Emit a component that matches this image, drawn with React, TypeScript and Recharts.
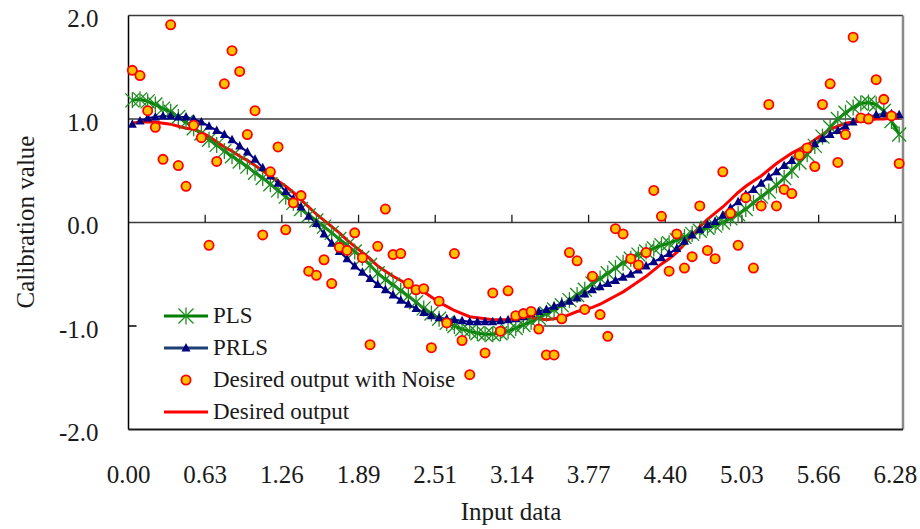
import {
  LineChart,
  Line,
  XAxis,
  YAxis,
  ReferenceLine,
  Legend,
  Label,
} from 'recharts';

// tick labels
const xTickLabels = ['0.00', '0.63', '1.26', '1.89', '2.51', '3.14', '3.77', '4.40', '5.03', '5.66', '6.28'];
const yTickValues = [-2, -1, 0, 1, 2];
const yTickLabels = ['-2.0', '-1.0', '0.0', '1.0', '2.0'];
const gridValues = [2, 1, 0];

// 101 samples over 0..2pi
const plsValues = [
  1.18, 1.19, 1.17, 1.14, 1.10, 1.07, 1.02, 0.97, 0.91, 0.86,
  0.80, 0.75, 0.69, 0.64, 0.59, 0.54, 0.48, 0.43, 0.37, 0.31,
  0.25, 0.19, 0.13, 0.07, 0.02, -0.04, -0.10, -0.16, -0.22, -0.28,
  -0.34, -0.41, -0.49, -0.55, -0.60, -0.66, -0.71, -0.77, -0.83, -0.88,
  -0.93, -0.97, -1.00, -1.03, -1.05, -1.07, -1.08, -1.08, -1.07, -1.05,
  -1.02, -0.99, -0.96, -0.92, -0.88, -0.84, -0.80, -0.75, -0.70, -0.65,
  -0.59, -0.54, -0.49, -0.44, -0.39, -0.35, -0.31, -0.28, -0.25, -0.22,
  -0.20, -0.17, -0.14, -0.11, -0.08, -0.05, -0.03, 0.00, 0.04, 0.08,
  0.13, 0.19, 0.25, 0.30, 0.36, 0.43, 0.50, 0.58, 0.66, 0.74,
  0.83, 0.92, 1.00, 1.06, 1.11, 1.15, 1.16, 1.14, 1.08, 0.98,
  0.85,
];

const prlsValues = [
  0.95, 0.98, 1.01, 1.02, 1.03, 1.03, 1.02, 1.02, 1.00, 0.97,
  0.93, 0.89, 0.85, 0.80, 0.74, 0.68, 0.61, 0.53, 0.45, 0.38,
  0.30, 0.23, 0.15, 0.06, -0.01, -0.11, -0.20, -0.28, -0.35, -0.42,
  -0.48, -0.54, -0.60, -0.65, -0.70, -0.75, -0.79, -0.83, -0.87, -0.90,
  -0.92, -0.93, -0.94, -0.95, -0.96, -0.96, -0.96, -0.96, -0.95, -0.94,
  -0.93, -0.91, -0.88, -0.86, -0.84, -0.81, -0.78, -0.76, -0.73, -0.69,
  -0.65, -0.62, -0.59, -0.56, -0.53, -0.50, -0.46, -0.42, -0.38, -0.34,
  -0.30, -0.25, -0.18, -0.12, -0.07, -0.02, 0.01, 0.07, 0.14, 0.20,
  0.27, 0.32, 0.38, 0.44, 0.49, 0.55, 0.60, 0.66, 0.71, 0.76,
  0.81, 0.85, 0.89, 0.93, 0.97, 1.00, 1.02, 1.04, 1.05, 1.05,
  1.04,
];

// one sample (index 45) is not visible in the picture
const noiseValues = [
  1.47, 1.42, 1.08, 0.92, 0.61, 1.91, 0.55, 0.35, 0.94, 0.82,
  -0.22, 0.59, 1.34, 1.66, 1.46, 0.85, 1.08, -0.12, 0.49, 0.73,
  -0.07, 0.19, 0.26, -0.47, -0.51, -0.36, -0.59, -0.24, -0.27, -0.10,
  -0.34, -1.18, -0.23, 0.13, -0.31, -0.30, -0.59, -0.65, -0.64, -1.21,
  -0.76, -0.97, -0.30, -1.14, -1.47, null, -1.26, -0.68, -1.05, -0.66,
  -0.90, -0.88, -0.86, -1.03, -1.28, -1.28, -0.93, -0.29, -0.37, -0.84,
  -0.52, -0.89, -1.10, -0.06, -0.11, -0.35, -0.41, -0.29, 0.31, 0.06,
  -0.47, -0.11, -0.44, -0.33, 0.16, -0.27, -0.35, 0.49, 0.09, -0.22,
  0.24, -0.44, 0.16, 1.14, 0.16, 0.32, 0.28, 0.65, 0.72, 0.54,
  1.14, 1.34, 0.58, 0.85, 1.79, 1.01, 1.00, 1.38, 1.19, 1.03,
  0.57,
];

const desiredValues = [
  0.96, 0.97, 0.97, 0.97, 0.96, 0.95, 0.93, 0.91, 0.90, 0.87,
  0.83, 0.78, 0.73, 0.69, 0.64, 0.60, 0.55, 0.50, 0.45, 0.40,
  0.35, 0.29, 0.22, 0.15, 0.08, 0.02, -0.04, -0.10, -0.17, -0.23,
  -0.29, -0.35, -0.42, -0.47, -0.52, -0.56, -0.60, -0.63, -0.67, -0.72,
  -0.77, -0.81, -0.85, -0.88, -0.91, -0.92, -0.93, -0.94, -0.94, -0.94,
  -0.93, -0.93, -0.92, -0.93, -0.94, -0.93, -0.92, -0.89, -0.86, -0.84,
  -0.82, -0.79, -0.75, -0.71, -0.67, -0.62, -0.57, -0.52, -0.46, -0.40,
  -0.35, -0.29, -0.21, -0.12, -0.04, 0.03, 0.09, 0.15, 0.22, 0.29,
  0.35, 0.40, 0.45, 0.51, 0.57, 0.62, 0.67, 0.71, 0.75, 0.80,
  0.85, 0.90, 0.93, 0.96, 0.97, 0.98, 0.99, 1.00, 1.00, 1.01,
  1.01,
];

// category positions: 101 categories, a labelled tick every 10
const rows = plsValues.map((v, i) => ({
  k: i,
  pls: v,
  prls: prlsValues[i],
  noise: noiseValues[i],
  desired: desiredValues[i],
}));
const xTicks = xTickLabels.map((_, j) => j * 10 - 0.5);

const FONT = '"Liberation Serif", "Times New Roman", serif';
const GREEN = '#008000';
const NAVY = '#000080';
const RED = '#ff0000';
const GOLD = '#ffc000';

const Star = ({ cx, cy, stroke = '#1e8c1e', s = 7 }: any) => (
  <g stroke={stroke} strokeWidth={1.3}>
    <line x1={cx - s} y1={cy - s} x2={cx + s} y2={cy + s} />
    <line x1={cx - s} y1={cy + s} x2={cx + s} y2={cy - s} />
    <line x1={cx} y1={cy - s - 1} x2={cx} y2={cy + s + 1} />
  </g>
);

const Tri = ({ cx, cy }: any) => (
  <polygon points={`${cx},${cy - 5} ${cx - 4.5},${cy + 3.5} ${cx + 4.5},${cy + 3.5}`} fill={NAVY} />
);

const Dot = ({ cx, cy }: any) => (
  <circle cx={cx} cy={cy} r={4.6} fill={GOLD} stroke={RED} strokeWidth={1.8} />
);

const okPoint = (p: any) => p.cx != null && p.cy != null && !isNaN(p.cy) && p.value != null;

const renderStar = (p: any) =>
  okPoint(p) ? <Star key={`s-${p.index}`} cx={p.cx} cy={p.cy} /> : <g key={`s-${p.index}`} />;
const renderTri = (p: any) =>
  okPoint(p) ? <Tri key={`t-${p.index}`} cx={p.cx} cy={p.cy} /> : <g key={`t-${p.index}`} />;
const renderDot = (p: any) =>
  okPoint(p) ? <Dot key={`d-${p.index}`} cx={p.cx} cy={p.cy} /> : <g key={`d-${p.index}`} />;

const legendRows = [
  { name: 'PLS', kind: 'pls' },
  { name: 'PRLS', kind: 'prls' },
  { name: 'Desired output with Noise', kind: 'noise' },
  { name: 'Desired output', kind: 'desired' },
];

const LegendBox = () => (
  <div style={{ fontFamily: FONT, fontSize: 23, color: '#1a1a1a' }}>
    {legendRows.map((r) => (
      <div key={r.name} style={{ display: 'flex', alignItems: 'center', height: 32 }}>
        <svg width={52} height={32} style={{ flex: 'none' }}>
          {r.kind === 'pls' && (
            <>
              <line x1={4} y1={16} x2={48} y2={16} stroke={GREEN} strokeWidth={3} />
              <Star cx={26} cy={16} stroke="#1e8c1e" s={7.5} />
            </>
          )}
          {r.kind === 'prls' && (
            <>
              <line x1={4} y1={16} x2={48} y2={16} stroke="#1f3f72" strokeWidth={3} />
              <Tri cx={26} cy={16} />
            </>
          )}
          {r.kind === 'noise' && <Dot cx={26} cy={16} />}
          {r.kind === 'desired' && <line x1={4} y1={16} x2={48} y2={16} stroke={RED} strokeWidth={3} />}
        </svg>
        <span style={{ marginLeft: 1, whiteSpace: 'nowrap', lineHeight: '32px' }}>{r.name}</span>
      </div>
    ))}
  </div>
);

export default function App() {
  return (
    <div style={{ position: 'absolute', left: 0, top: 0, width: 920, height: 529, background: '#fff' }}>
      <LineChart
        width={920}
        height={529}
        data={rows}
        margin={{ top: 15.5, right: 17, bottom: 39.5, left: 68.5 }}
      >
        <XAxis
          type="number"
          dataKey="k"
          domain={[-0.5, 100.5]}
          ticks={xTicks}
          interval={0}
          tickFormatter={(_v: number, i: number) => xTickLabels[i]}
          axisLine={{ stroke: '#1a1a1a', strokeWidth: 2 }}
          tickLine={false}
          tickSize={0}
          tickMargin={36}
          height={60}
          tick={{ fontSize: 25, fill: '#1a1a1a', fontFamily: FONT }}
        >
          <Label
            content={() => (
              <text x={511} y={520} textAnchor="middle" fontSize={25} fill="#1a1a1a" fontFamily={FONT}>
                Input data
              </text>
            )}
          />
        </XAxis>
        <YAxis
          type="number"
          domain={[-2, 2]}
          ticks={yTickValues}
          interval={0}
          tickFormatter={(_v: number, i: number) => yTickLabels[i]}
          axisLine={{ stroke: '#000', strokeWidth: 1.5 }}
          tickLine={false}
          tickSize={0}
          tickMargin={30}
          width={60}
          tick={{ fontSize: 25, fill: '#1a1a1a', fontFamily: FONT, dy: 3 }}
        >
          <Label
            content={() => (
              <text
                x={25}
                y={222}
                transform="rotate(-90 25 222)"
                textAnchor="middle"
                dy="0.35em"
                fontSize={25}
                fill="#1a1a1a"
                fontFamily={FONT}
              >
                Calibration value
              </text>
            )}
          />
        </YAxis>

        {gridValues.map((v) => (
          <ReferenceLine key={`g${v}`} y={v} stroke="#3a3a3a" strokeWidth={1.5} />
        ))}
        {/* -1.0 gridline is hidden behind the legend on the left */}
        <ReferenceLine segment={[{ x: -0.5, y: -1 }, { x: 0.55, y: -1 }]} stroke="#000" strokeWidth={1.5} />
        <ReferenceLine segment={[{ x: 53.6, y: -1 }, { x: 100.5, y: -1 }]} stroke="#3a3a3a" strokeWidth={1.5} />
        <ReferenceLine x={100.5} stroke="#8a8a8a" strokeWidth={2.5} />
        {xTicks.slice(1).map((t) => (
          <ReferenceLine key={t} segment={[{ x: t, y: 0 }, { x: t, y: 0.075 }]} stroke="#1a1a1a" strokeWidth={1.3} />
        ))}

        <Line
          dataKey="pls"
          stroke={GREEN}
          strokeWidth={3}
          dot={renderStar}
          activeDot={false}
          isAnimationActive={false}
        />
        <Line
          dataKey="prls"
          stroke={NAVY}
          strokeWidth={2}
          dot={renderTri}
          activeDot={false}
          isAnimationActive={false}
        />
        <Line
          dataKey="desired"
          stroke={RED}
          strokeWidth={3}
          dot={false}
          activeDot={false}
          isAnimationActive={false}
        />
        <Line
          dataKey="noise"
          stroke="none"
          dot={renderDot}
          activeDot={false}
          isAnimationActive={false}
        />
        <Legend
          content={<LegendBox />}
          layout="vertical"
          align="center"
          verticalAlign="middle"
          wrapperStyle={{ position: 'absolute', left: 160, top: 300, width: 330, bottom: 'auto' }}
        />
      </LineChart>
    </div>
  );
}
